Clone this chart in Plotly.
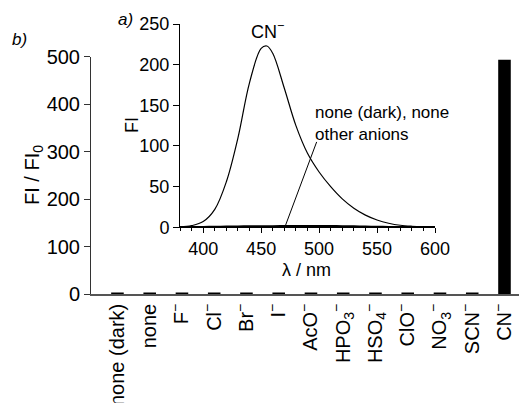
import plotly.graph_objects as go

W, H = 519, 403

# ---- main bar chart (b) ----
categories = ["none (dark)", "none", "F<sup>−</sup>", "Cl<sup>−</sup>", "Br<sup>−</sup>",
              "I<sup>−</sup>", "AcO<sup>−</sup>", "HPO<sub>3</sub><sup>−</sup>",
              "HSO<sub>4</sub><sup>−</sup>", "ClO<sup>−</sup>", "NO<sub>3</sub><sup>−</sup>",
              "SCN<sup>−</sup>", "CN<sup>−</sup>"]
ratio_values = [1.5, 1.5, 3, 3, 3, 3, 2.5, 3, 3, 3, 3, 3, 493]
main_yticks = [0, 100, 200, 300, 400, 500]

# ---- inset spectra (a) ----
wavelength = [380, 390, 400, 410, 420, 430, 440, 450, 455, 460, 470, 480, 490,
              500, 510, 520, 530, 540, 550, 560, 570, 580, 590, 600]
fi_cn = [0.3, 2, 7, 22, 56, 110, 178, 220, 223, 214, 171, 125, 91,
         68, 50, 35, 23.5, 15, 9, 5, 2.5, 1.3, 0.7, 0.4]
fi_none = [0.5, 0.6, 0.8, 1.0, 1.2, 1.4, 1.5, 1.6, 1.6, 1.7, 1.8, 1.9, 2.0,
           2.0, 1.9, 1.7, 1.5, 1.2, 1.0, 0.8, 0.6, 0.5, 0.4, 0.3]
fi_dark = [0.2] * len(wavelength)
inset_xticks = [400, 450, 500, 550, 600]
inset_yticks = [0, 50, 100, 150, 200, 250]

FONT = "Liberation Sans, Arial, Helvetica, sans-serif"
LINE = "#333333"

def px_x(x):
    return x / W

def px_y(y):
    return 1 - y / H

fig = go.Figure()

fig.add_trace(go.Bar(x=categories, y=ratio_values, marker=dict(color="black", line=dict(width=0)),
                     width=0.39, xaxis="x", yaxis="y", showlegend=False))

fig.add_trace(go.Scatter(x=wavelength, y=fi_dark, mode="lines", line=dict(color="black", width=2.5),
                         xaxis="x2", yaxis="y2", showlegend=False))
fig.add_trace(go.Scatter(x=wavelength, y=fi_none, mode="lines", line=dict(color="black", width=1.5, shape="spline"),
                         xaxis="x2", yaxis="y2", showlegend=False))
fig.add_trace(go.Scatter(x=wavelength, y=fi_cn, mode="lines", line=dict(color="black", width=1.2, shape="spline"),
                         xaxis="x2", yaxis="y2", showlegend=False))

fig.update_layout(
    width=W, height=H,
    margin=dict(l=0, r=0, t=0, b=0, autoexpand=False),
    paper_bgcolor="white", plot_bgcolor="rgba(0,0,0,0)",
    font=dict(family=FONT, color="black", size=18),
    xaxis=dict(domain=[px_x(91), 1.0], anchor="y", type="category", automargin=False,
               range=[-0.82, 12.45], showline=True, linecolor="#555555", linewidth=1.5,
               ticks="", tickangle=-90, tickfont=dict(size=20), showgrid=False, zeroline=False),
    yaxis=dict(domain=[px_y(294), px_y(56.5)], anchor="x", range=[0, 500], automargin=False,
               tickvals=main_yticks, showline=True, linecolor=LINE, linewidth=1,
               ticks="outside", ticklen=6, tickcolor=LINE, tickfont=dict(size=20),
               showgrid=False, zeroline=False),
    xaxis2=dict(domain=[px_x(180), px_x(435)], anchor="y2", range=[380, 600], automargin=False,
                tickvals=inset_xticks, showline=True, linecolor="black", linewidth=1,
                ticks="outside", ticklen=5, tickcolor="black", tickfont=dict(size=18),
                minor=dict(dtick=10, ticks="outside", ticklen=3, tickcolor="black"),
                showgrid=False, zeroline=False),
    yaxis2=dict(domain=[px_y(227.3), px_y(24)], anchor="x2", range=[0, 250], automargin=False,
                tickvals=inset_yticks, showline=True, linecolor="black", linewidth=1,
                ticks="outside", ticklen=6, tickcolor="black", tickfont=dict(size=18),
                showgrid=False, zeroline=False),
)

def note(text, x, y, size, angle=0, xanchor="center"):
    return dict(text=text, x=px_x(x), y=px_y(y), xref="paper", yref="paper",
                xanchor=xanchor, yanchor="middle", textangle=angle,
                showarrow=False, font=dict(size=size))

ann = [
    note("FI / FI<sub>0</sub>", 33, 175, 20, angle=-90),
    note("FI", 132, 125, 18, angle=-90),
    note("λ / nm", 307, 270, 18),
    note("<i>a)</i>", 125, 19, 17),
    note("<i>b)</i>", 19, 39, 17),
    note("CN<sup>−</sup>", 267, 31, 18),
    note("none (dark), none", 313, 113, 17, xanchor="left"),
    note("other anions", 313, 134, 17, xanchor="left"),
]
fig.update_layout(annotations=ann)

fig.add_shape(type="line", xref="x2", yref="y2", x0=470.6, y0=0.7, x1=497.9, y1=105,
              line=dict(color="black", width=1))

fig.write_html("out.html")
